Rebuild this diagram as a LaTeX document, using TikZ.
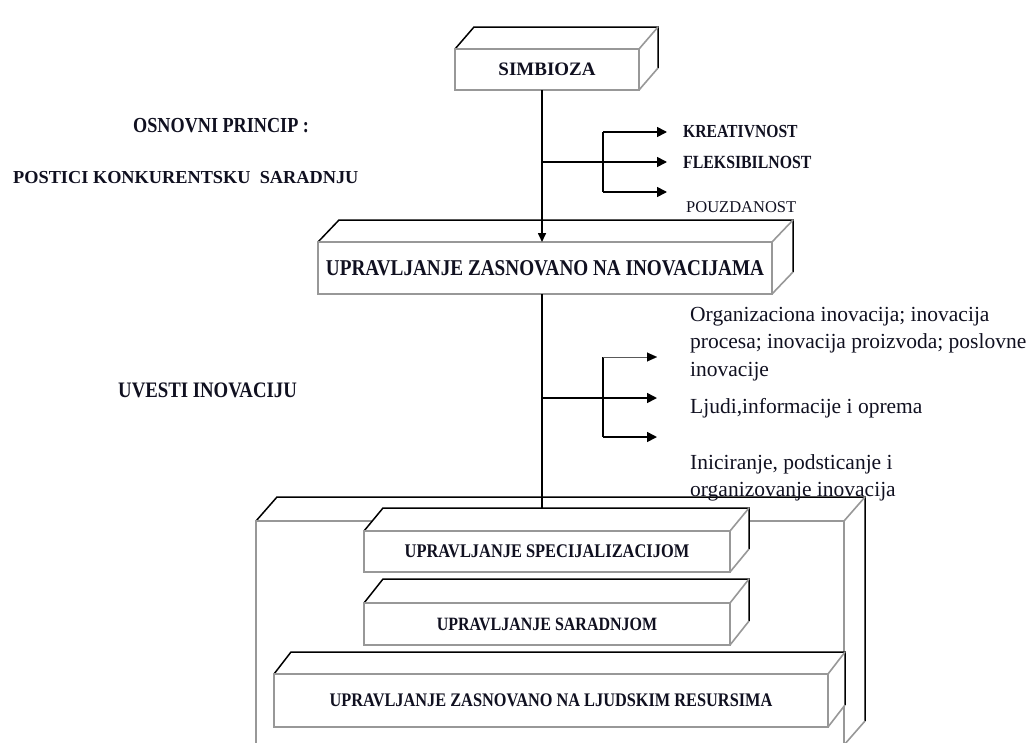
\documentclass[tikz,border=0pt]{standalone}
\usepackage{fontspec}
\setmainfont{Liberation Serif}
\newfontfamily\capfont[FakeStretch=0.85]{Liberation Serif}
\usetikzlibrary{arrows.meta,calc}
\definecolor{frontgray}{HTML}{989898}
\definecolor{ink}{HTML}{101020}
\newcommand\cubeback[3]{%
  \fill[white] (#1.north west) -- ++(#2,-#3) -- ($(#1.north east)+(#2,-#3)$) -- ($(#1.south east)+(#2,-#3)$) -- (#1.south east) -- (#1.north east) -- cycle;
  \draw[edge] (#1.north west) -- ++(#2,-#3) -- ($(#1.north east)+(#2,-#3)$) -- ($(#1.south east)+(#2,-#3)$);
  \draw[gedge] (#1.north east) -- ++(#2,-#3);
  \draw[gedge] (#1.south east) -- ++(#2,-#3);
  \draw[frontgray,line width=2pt] (#1.north west) rectangle (#1.south east);
}
\begin{document}
\begin{tikzpicture}[x=1pt,y=-1pt,
  front/.style={draw=frontgray, line width=2pt, fill=white, inner sep=0pt, outer sep=0pt, text=ink},
  edge/.style={line width=1.5pt, black, line join=miter},
  gedge/.style={line width=1.6pt, frontgray},
  conn/.style={line width=1.6pt, black},
  thinconn/.style={line width=0.9pt, black!65},
  tip/.style={-{Triangle[length=10pt,width=10pt]}},
  capbig/.style={font=\capfont\fontsize{22.6}{24}\selectfont\bfseries, text=ink, inner sep=0pt},
  capsmall/.style={font=\capfont\fontsize{19.2}{21}\selectfont\bfseries, text=ink, inner sep=0pt},
  lefttxt/.style={text=ink, inner sep=0pt, anchor=base west},
  sidecap/.style={font=\capfont\fontsize{18.6}{20}\selectfont\bfseries, text=ink, inner sep=0pt, anchor=base west},
  sidetxt/.style={font=\fontsize{21.5}{24}\selectfont, text=ink, inner sep=0pt, anchor=base west},
]
\useasboundingbox (0,0) rectangle (1030,742);

% outer container box
\node[front, minimum width=588pt, minimum height=224pt] (outer) at (550,633) {};
\cubeback{outer}{21}{24}

% top box
\node[front, font=\fontsize{19}{20}\selectfont\bfseries, minimum width=184pt, minimum height=41pt] (simb) at (547,69.5) {SIMBIOZA};
\cubeback{simb}{19}{22}

% innovation box
\node[front, capbig, minimum width=454pt, minimum height=52pt] (inov) at (545,268) {UPRAVLJANJE ZASNOVANO NA INOVACIJAMA};
\cubeback{inov}{21}{22}

% main vertical line
\coordinate (mx) at (542,0);
\draw[conn, -{Triangle[length=9pt,width=8pt]}] (simb.south -| mx) -- (inov.north -| mx);

% inner boxes
\node[front, capsmall, font=\capfont\fontsize{19.3}{21}\selectfont\bfseries, minimum width=366pt, minimum height=41pt] (spec) at (547,551.5) {UPRAVLJANJE SPECIJALIZACIJOM};
\draw[conn] (inov.south -| mx) -- (spec.north -| mx);
\cubeback{spec}{19}{23}

\node[front, capsmall, font=\capfont\fontsize{18.8}{21}\selectfont\bfseries, minimum width=366pt, minimum height=42pt] (sarad) at (547,624) {UPRAVLJANJE SARADNJOM};
\cubeback{sarad}{19}{24}

\node[front, capsmall, minimum width=554pt, minimum height=53pt] (ljud) at (551,700.5) {UPRAVLJANJE ZASNOVANO NA LJUDSKIM RESURSIMA};
\cubeback{ljud}{17}{22}

% first branch
\coordinate (j1) at (542,162);
\coordinate (k1) at (603,162);
\coordinate (k1t) at (603,132);
\coordinate (k1b) at (603,192);
\coordinate (e1a) at (667,132);
\coordinate (e1b) at (667,162);
\coordinate (e1c) at (667,192);
\draw[conn] (k1t) -- (k1b);
\draw[conn] (j1) -- (k1);
\draw[conn,tip] (k1t) -- (e1a);
\draw[conn,tip] (k1) -- (e1b);
\draw[conn,tip] (k1b) -- (e1c);

\node[sidecap, font=\capfont\fontsize{18.4}{20}\selectfont\bfseries] (kre) at (683,137) {KREATIVNOST};
\node[sidecap] (fle) at (683,168) {FLEKSIBILNOST};
\node[font=\fontsize{16.5}{18}\selectfont, text=ink, inner sep=0pt, anchor=base west] (pou) at (686,212) {POUZDANOST};

% second branch
\coordinate (j2) at (542,398);
\coordinate (k2) at (603,398);
\coordinate (k2t) at (603,357);
\coordinate (k2b) at (603,437);
\coordinate (e2a) at (657,357);
\coordinate (e2b) at (657,398);
\coordinate (e2c) at (657,437);
\draw[conn] (k2t) -- (k2b);
\draw[conn] (j2) -- (k2);
\draw[thinconn] (k2t) -- ($(e2a)+(-9,0)$);
\draw[conn,-{Triangle[length=10pt,width=9pt]}, line width=0.1pt] ($(e2a)+(-10,0)$) -- (e2a);
\draw[conn,tip] (k2) -- (e2b);
\draw[conn,tip] (k2b) -- (e2c);

\node[sidetxt] (o1) at (690,321) {Organizaciona inovacija; inovacija};
\node[sidetxt] (o2) at (690,348) {procesa; inovacija proizvoda; poslovne};
\node[sidetxt] (o3) at (690,376) {inovacije};
\node[sidetxt] (o4) at (690,413) {Ljudi,informacije i oprema};
\node[sidetxt] (o5) at (690,469) {Iniciranje, podsticanje i};
\node[sidetxt] (o6) at (690,496) {organizovanje inovacija};

% left labels
\node[lefttxt, font=\capfont\fontsize{21.4}{23}\selectfont\bfseries] (osn) at (133,132) {OSNOVNI PRINCIP :};
\node[lefttxt, font=\fontsize{18.3}{20}\selectfont\bfseries] (pos) at (13,183) {POSTICI KONKURENTSKU\ \ SARADNJU};
\node[lefttxt, font=\capfont\fontsize{22.1}{24}\selectfont\bfseries] (uve) at (118,397) {UVESTI INOVACIJU};
\end{tikzpicture}
\end{document}
